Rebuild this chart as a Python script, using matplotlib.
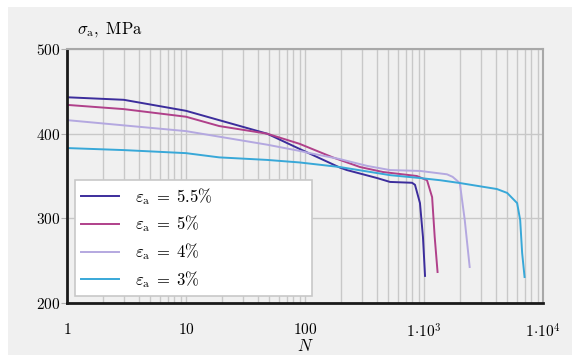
import matplotlib
matplotlib.use("Agg")
import matplotlib.pyplot as plt
from matplotlib.patches import Rectangle

plt.rcParams['mathtext.fontset'] = 'cm'
plt.rcParams['font.family'] = ['DejaVu Serif']

# cycles N and stress amplitude (MPa)
n_55 = [1, 3, 10, 48, 90, 196, 225, 403, 518, 793, 840, 925, 980, 1020]
s_55 = [443, 440, 427, 400, 382, 360, 357, 347.6, 343, 342, 339.6, 318, 278, 232]

n_5 = [1, 3, 10, 19, 48, 90, 171, 290, 453, 870, 1060, 1170, 1230, 1300]
s_5 = [434, 429, 420, 409, 400, 388, 372, 360.6, 354.7, 350, 345, 325, 278, 236.6]

n_4 = [1, 10, 48, 91, 110, 196, 331, 518, 925, 1560, 1740, 2000, 2200, 2420]
s_4 = [416, 403, 387, 379.5, 377, 370, 362, 357, 356, 352, 349, 341.7, 298, 242.5]

n_3 = [1, 3, 10, 19, 48, 90, 196, 518, 925, 1370, 2000, 4100, 5000, 6060, 6430, 6680, 7000]
s_3 = [383, 380.6, 377, 372, 369, 366, 360.6, 351, 347.6, 345, 341.7, 334.6, 330, 318, 298, 259, 230.7]

series = [
    (n_55, s_55, r'$\varepsilon_\mathrm{a}\;=\;5.5\%$', '#3c2d9c'),
    (n_5, s_5, r'$\varepsilon_\mathrm{a}\;=\;5\%$', '#b0408a'),
    (n_4, s_4, r'$\varepsilon_\mathrm{a}\;=\;4\%$', '#b4a8e0'),
    (n_3, s_3, r'$\varepsilon_\mathrm{a}\;=\;3\%$', '#38a8d8'),
]

x_ticks = [1, 10, 100, 1000, 10000]
x_labels = ['$1$', '$10$', '$100$', r'$1\!\cdot\!10^3$', r'$1\!\cdot\!10^4$']
y_ticks = [200, 300, 400, 500]

fig = plt.figure(figsize=(5.72, 3.58), dpi=100)
fig.patch.set_facecolor('white')
fig.patches.append(Rectangle((8 / 572, 3 / 358), 1, 348 / 358,
                             transform=fig.transFigure, facecolor='#f0f0f0',
                             edgecolor='none', zorder=-10))

ax = fig.add_axes([67 / 572, 55 / 358, 476 / 572, 254 / 358])
ax.set_facecolor('#f0f0f0')

for n, s, lab, col in series:
    ax.plot(n, s, color=col, lw=1.4, label=lab)

ax.set_xscale('log')
ax.set_xlim(1, 10000)
ax.set_ylim(200, 500)
ax.set_xticks(x_ticks)
ax.set_xticklabels(x_labels)
ax.set_yticks(y_ticks)
ax.set_yticklabels(['$%d$' % v for v in y_ticks])
ax.tick_params(axis='both', labelsize=11)
ax.tick_params(axis='x', length=0, pad=14)
ax.tick_params(axis='x', which='minor', length=0)
ax.tick_params(axis='y', length=4, width=0.8, color='#b0b0b0', pad=1)

ax.grid(True, which='both', axis='x', color='#c8c8c8', lw=1)
ax.grid(True, which='major', axis='y', color='#c8c8c8', lw=1)
ax.set_axisbelow(True)

for side in ['left', 'bottom']:
    ax.spines[side].set_color('#1a1a1a')
    ax.spines[side].set_linewidth(2)
for side in ['top', 'right']:
    ax.spines[side].set_color('#a8a8a8')
    ax.spines[side].set_linewidth(1.5)

ax.text(0.021, 1.04, r'$\sigma_\mathrm{a},\ \mathrm{MPa}$', transform=ax.transAxes,
        fontsize=12, ha='left', va='bottom')
ax.set_xlabel('$N$', fontsize=12, labelpad=-2)

leg = ax.legend(loc='lower left', bbox_to_anchor=(0.0168, 0.028, 0.498, 0.45),
                mode='expand', fontsize=12, frameon=True, fancybox=False,
                handlelength=2.3, handletextpad=0.95, labelspacing=0.42,
                borderpad=0.35, borderaxespad=0)
leg.get_frame().set_edgecolor('#c8c8c8')
leg.get_frame().set_linewidth(1.2)
leg.get_frame().set_alpha(1)

fig.savefig('out.png', dpi=100)
